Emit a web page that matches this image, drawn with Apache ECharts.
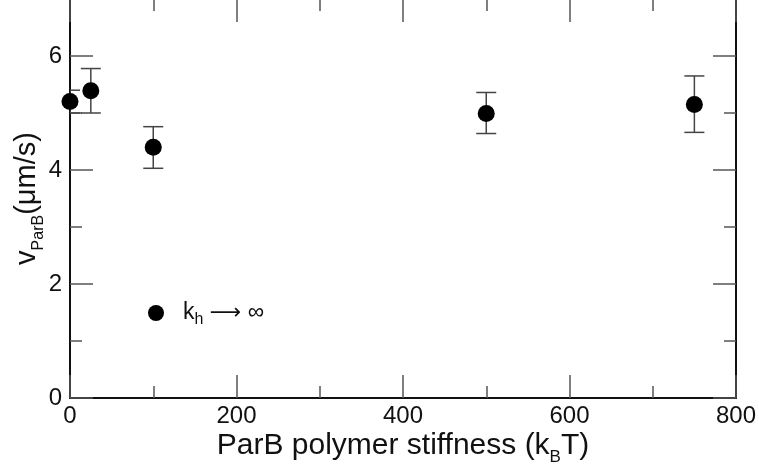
<!DOCTYPE html>
<html>
<head>
<meta charset="utf-8">
<script src="https://cdn.jsdelivr.net/npm/echarts@6/dist/echarts.min.js"></script>
<style>
  html, body { margin: 0; padding: 0; background: #fff; }
  #chart { width: 759px; height: 469px; }
</style>
</head>
<body>
<div id="chart"></div>
<script>
// datos
const stiffness = [0, 25, 100, 500, 750];
const velocity = [5.2, 5.39, 4.4, 4.99, 5.15];
const errLow = [5.0, 5.0, 4.03, 4.64, 4.66];
const errHigh = [5.4, 5.78, 4.76, 5.36, 5.65];
const xTicks = [0, 200, 400, 600, 800];
const yTicks = [0, 2, 4, 6];

const fontFam = 'Liberation Sans, Arial, sans-serif';
const chart = echarts.init(document.getElementById('chart'));

const points = stiffness.map((x, i) => [x, velocity[i]]);
const bars = stiffness.map((x, i) => [x, errLow[i], errHigh[i]]);

// ejes comunes: ticks hacia dentro
const tickStyle = { color: '#555', width: 1.5 };
const axisBase = (extra) => Object.assign({
  type: 'value',
  axisLine: { show: true, onZero: false, lineStyle: { color: '#111', width: 2 } },
  axisTick: { show: true, inside: true, length: 23, lineStyle: tickStyle },
  minorTick: { show: true, splitNumber: 2, length: 12, lineStyle: tickStyle },
  splitLine: { show: false },
  minorSplitLine: { show: false }
}, extra);

const option = {
  animation: false,
  grid: { left: 70, right: 23, top: -1, bottom: 71, containLabel: false, outerBoundsMode: 'none' },
  legend: {
    data: ['kh'],
    left: 148,
    top: 298,
    padding: 0,
    itemWidth: 16,
    itemHeight: 16,
    icon: 'circle',
    itemStyle: { opacity: 1 },
    formatter: () => 'k{sub|h} {arr|\u27f6} \u221e',
    textStyle: {
      fontFamily: fontFam, fontSize: 23, color: '#111', lineHeight: 30,
      padding: [0, 0, 0, 14],
      rich: {
        sub: { fontFamily: fontFam, fontSize: 16, lineHeight: 18, verticalAlign: 'bottom' },
        arr: { fontFamily: 'DejaVu Sans', fontSize: 22, lineHeight: 30 }
      }
    }
  },
  xAxis: [
    axisBase({
      position: 'bottom', min: 0, max: 800, interval: 200,
      name: 'ParB polymer stiffness (k{sub|B}T)',
      nameLocation: 'middle', nameGap: 28, nameMoveOverlap: false,
      nameTextStyle: {
        fontFamily: fontFam, fontSize: 30, color: '#111', lineHeight: 40,
        rich: { sub: { fontFamily: fontFam, fontSize: 17, lineHeight: 22, verticalAlign: 'bottom' } }
      },
      axisLabel: { fontFamily: fontFam, fontSize: 24, color: '#111', margin: 6 }
    }),
    axisBase({
      position: 'top', min: 0, max: 800, interval: 200,
      axisLabel: { show: false }
    })
  ],
  yAxis: [
    axisBase({
      position: 'left', min: 0, max: 7, interval: 2,
      name: 'v{sub|ParB}(\u03bcm/s)',
      nameLocation: 'middle', nameGap: 23, nameMoveOverlap: false,
      nameTextStyle: {
        fontFamily: fontFam, fontSize: 29, color: '#111', lineHeight: 40,
        rich: { sub: { fontFamily: fontFam, fontSize: 16, lineHeight: 22, verticalAlign: 'bottom' } }
      },
      axisLabel: { fontFamily: fontFam, fontSize: 24, color: '#111', margin: 8, showMaxLabel: false }
    }),
    axisBase({
      position: 'right', min: 0, max: 7, interval: 2,
      axisLabel: { show: false }
    })
  ],
  series: [
    {
      // barras de error
      type: 'custom',
      clip: true,
      data: bars,
      z: 2,
      renderItem: (params, api) => {
        const x = api.value(0);
        const top = api.coord([x, api.value(2)]);
        const bot = api.coord([x, api.value(1)]);
        const hw = 10;
        const st = { stroke: '#444', lineWidth: 1.5 };
        return {
          type: 'group',
          children: [
            { type: 'line', shape: { x1: top[0], y1: top[1], x2: bot[0], y2: bot[1] }, style: st },
            { type: 'line', shape: { x1: top[0] - hw, y1: top[1], x2: top[0] + hw, y2: top[1] }, style: st },
            { type: 'line', shape: { x1: bot[0] - hw, y1: bot[1], x2: bot[0] + hw, y2: bot[1] }, style: st }
          ]
        };
      }
    },
    {
      name: 'kh',
      type: 'scatter',
      data: points,
      symbol: 'circle',
      symbolSize: 17,
      itemStyle: { color: '#000', opacity: 1 },
      z: 5
    }
  ]
};

chart.setOption(option);
</script>
</body>
</html>
